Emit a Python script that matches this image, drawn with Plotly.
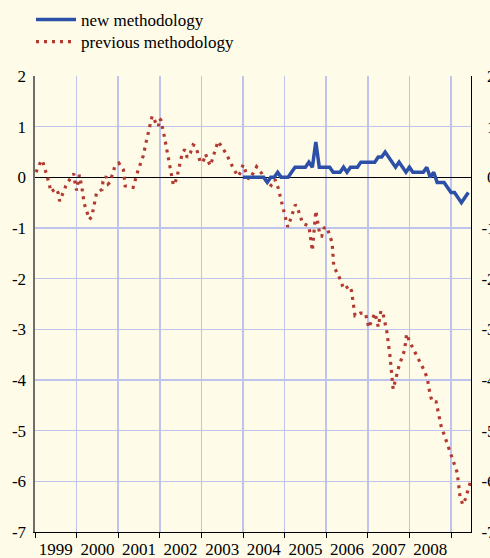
import plotly.graph_objects as go

# ---- data ----
year_labels = ["1999", "2000", "2001", "2002", "2003", "2004", "2005", "2006", "2007", "2008"]
first_year = 1999

# previous methodology: months elapsed since Jan 1999, value
prev_month = [0.3, 1.2, 2.1, 2.9, 3.5, 4.1, 4.6, 6.0, 6.7, 7.1,
              8.0, 8.9, 10.1, 11.2, 11.5, 12.0, 12.8, 13.5, 14.2, 15.0,
              15.7, 16.4, 16.8, 17.3, 17.8, 19.4, 19.6, 20.5, 21.1, 21.6,
              23.0, 24.2, 25.5, 26.0, 28.3, 29.6, 31.2, 32.2, 33.2, 33.8,
              34.9, 35.6, 35.9, 36.3, 37.3, 38.1, 39.0, 39.9, 40.2, 41.0,
              42.0, 42.5, 43.2, 43.9, 44.8, 45.6, 46.4, 47.1, 47.7, 48.5,
              49.2, 50.0, 50.6, 51.3, 52.0, 52.8, 54.0, 55.3, 56.3, 57.4,
              58.5, 59.3, 60.0, 60.9, 61.7, 63.0, 63.9, 65.5, 66.7, 68.1,
              69.2, 70.1, 72.9, 73.6, 75.1, 75.8, 77.2, 79.0, 80.0, 81.0,
              82.2, 82.7, 83.4, 84.2, 85.7, 86.2, 87.4, 89.1, 90.7, 91.3,
              92.3, 93.8, 95.3, 96.3, 97.1, 98.1, 99.0, 99.8, 100.5, 101.5,
              102.4, 103.3, 105.0, 106.6, 107.2, 108.1, 110.2, 112.4, 113.2, 114.0,
              114.6, 115.7, 117.1, 118.6, 120.3, 121.8, 122.6, 123.4, 124.2, 125.5]
prev_value = [0.10, 0.25, 0.34, 0.18, 0.02, -0.13, -0.29, -0.22, -0.31, -0.47,
              -0.32, -0.17, -0.03, 0.07, -0.09, -0.26, 0.05, -0.19, -0.52, -0.68,
              -0.83, -0.77, -0.61, -0.45, -0.29, -0.24, -0.08, 0.02, -0.13, -0.10,
              0.21, 0.28, 0.15, -0.17, -0.20, 0.11, 0.42, 0.74, 1.05, 1.21,
              1.07, 1.00, 1.16, 1.13, 0.81, 0.49, 0.17, -0.15, -0.15, 0.02,
              0.33, 0.48, 0.55, 0.39, 0.48, 0.64, 0.61, 0.44, 0.29, 0.31,
              0.46, 0.31, 0.23, 0.39, 0.55, 0.71, 0.59, 0.45, 0.30, 0.16,
              0.02, 0.10, 0.25, 0.09, -0.04, 0.09, 0.21, 0.07, -0.08, -0.16,
              -0.04, -0.20, -0.98, -0.85, -0.54, -0.62, -0.91, -0.96, -1.45, -0.66,
              -1.15, -1.16, -1.00, -0.98, -1.29, -1.77, -1.91, -2.21, -2.14, -2.24,
              -2.73, -2.68, -2.68, -2.97, -2.82, -2.68, -2.95, -2.63, -2.73, -3.05,
              -3.53, -4.18, -3.72, -3.41, -3.09, -3.25, -3.54, -3.83, -3.98, -4.30,
              -4.43, -4.43, -4.90, -5.21, -5.52, -5.83, -6.31, -6.46, -6.34, -6.03]

# new methodology: monthly values from Jan 2004 (month 60 since Jan 1999)
new_first_month = 60
new_value = [0.0, 0.0, 0.0, 0.0, 0.0, 0.0, 0.0, -0.1, 0.0, 0.0,
             0.1, 0.0, 0.0, 0.0, 0.1, 0.2, 0.2, 0.2, 0.2, 0.3,
             0.2, 0.7, 0.2, 0.2, 0.2, 0.2, 0.1, 0.1, 0.1, 0.2,
             0.1, 0.2, 0.2, 0.2, 0.3, 0.3, 0.3, 0.3, 0.3, 0.4,
             0.4, 0.5, 0.4, 0.3, 0.2, 0.3, 0.2, 0.1, 0.2, 0.1,
             0.1, 0.1, 0.1, 0.2, 0.0, 0.1, -0.1, -0.1, -0.1, -0.2,
             -0.3, -0.3, -0.4, -0.5, -0.4, -0.3]

y_ticks = [2, 1, 0, -1, -2, -3, -4, -5, -6, -7]

# ---- derived positions ----
prev_t = [first_year + m / 12 for m in prev_month]
new_t = [first_year + (new_first_month + i) / 12 for i in range(len(new_value))]
year_starts = [first_year + i for i in range(len(year_labels) + 1)]
year_mids = [first_year + i + 0.5 for i in range(len(year_labels))]

BG = "#fefce9"
GRID = "#bfc4ee"
BLUE = "#2c4fa8"
RED = "#b23a30"
FONT = "Liberation Serif, Times New Roman, serif"
W, H = 490, 558

fig = go.Figure()
fig.add_trace(go.Scatter(
    x=prev_t, y=prev_value, mode="lines", name="previous methodology",
    line=dict(color=RED, width=3.2, dash="3px,5px"), legend="legend2",
    hoverinfo="skip"))
fig.add_trace(go.Scatter(
    x=new_t, y=new_value, mode="lines", name="new methodology", yaxis="y2",
    line=dict(color=BLUE, width=3.5), legend="legend", hoverinfo="skip"))

legend_common = dict(xref="container", yref="container", xanchor="left",
                     yanchor="middle", bgcolor="rgba(0,0,0,0)",
                     font=dict(family=FONT, size=17, color="black"),
                     itemwidth=40)

fig.update_layout(
    width=W, height=H,
    margin=dict(l=35, r=19, t=76, b=26, autoexpand=False),
    paper_bgcolor=BG, plot_bgcolor=BG,
    font=dict(family=FONT, size=17, color="black"),
    showlegend=True,
    legend=dict(x=31 / W, y=1 - 20 / H, **legend_common),
    legend2=dict(x=31 / W, y=1 - 42 / H, **legend_common),
    xaxis=dict(
        range=[first_year, first_year + 10.48],
        tickmode="array", tickvals=year_mids, ticktext=year_labels,
        ticks="", showgrid=False, zeroline=False,
        showline=True, linecolor="black", linewidth=1,
        automargin=False, ticklabelstandoff=2,
        minor=dict(tickmode="array", tickvals=year_starts, ticks="outside",
                   ticklen=5, tickcolor="black", tickwidth=1,
                   showgrid=True, gridcolor=GRID, gridwidth=1.5),
    ),
    yaxis=dict(
        range=[-7, 2], tickmode="array", tickvals=y_ticks,
        ticktext=[str(v) for v in y_ticks],
        showgrid=True, gridcolor=GRID, gridwidth=1.5,
        zeroline=True, zerolinecolor="black", zerolinewidth=1.2,
        showline=True, linecolor="#6e6e6e", linewidth=2.5,
        ticks="", ticklabelstandoff=3, automargin=False,
    ),
    yaxis2=dict(
        range=[-7, 2], overlaying="y", side="right",
        tickmode="array", tickvals=y_ticks,
        ticktext=[("\u2004" + str(v)) if v >= 0 else str(v) for v in y_ticks],
        showgrid=False, zeroline=False,
        showline=True, linecolor="black", linewidth=1,
        ticks="", ticklabelstandoff=6, automargin=False,
    ),
)

fig.write_html(
    "out.html",
    config={"displayModeBar": False, "staticPlot": True},
    post_script=("document.body.style.margin='0';"
                 "document.body.style.background='%s';"
                 "document.body.style.overflow='hidden';" % BG),
)
